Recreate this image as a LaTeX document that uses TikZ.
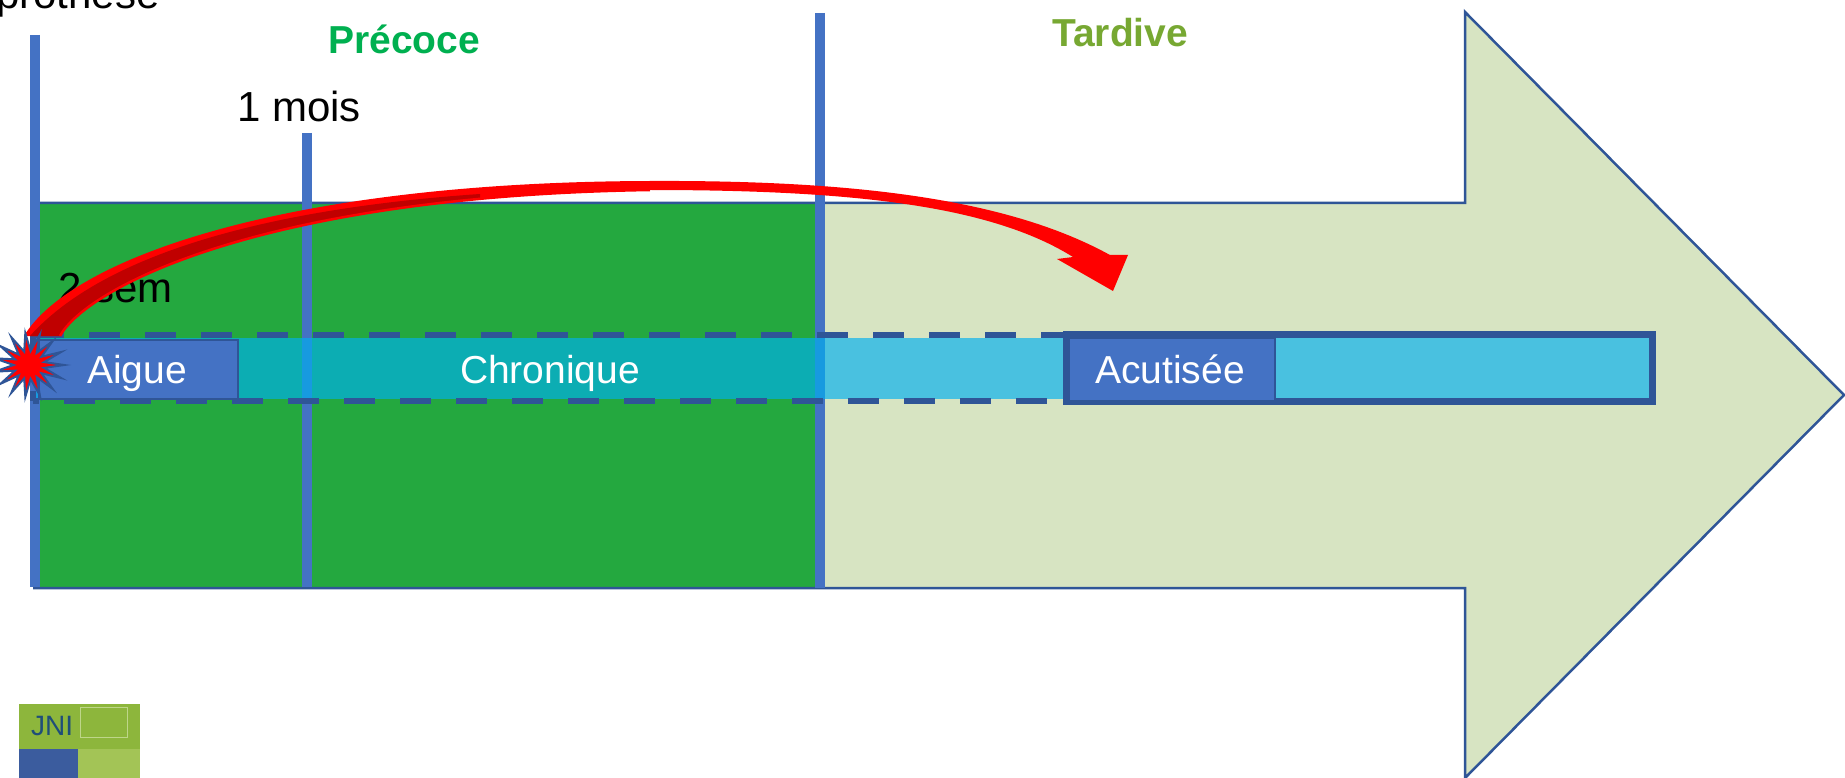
\documentclass[tikz,border=0pt]{standalone}
\usepackage{fontspec}
\setmainfont{Liberation Sans}
\definecolor{dkgreen}{HTML}{24A83F}
\definecolor{ltgreen}{HTML}{D7E4C2}
\definecolor{lineblue}{HTML}{4472C4}
\definecolor{navy}{HTML}{2F5597}
\definecolor{cyanbar}{HTML}{00B0F0}
\definecolor{darkred}{HTML}{C00000}
\definecolor{precoce}{HTML}{00B050}
\definecolor{tardive}{HTML}{77A832}
\definecolor{logogreen}{HTML}{8DB63C}
\definecolor{logoblue}{HTML}{3B5C9E}
\definecolor{logolight}{HTML}{A3C456}
\definecolor{jniblue}{HTML}{1F4E79}
\begin{document}
\begin{tikzpicture}[x=1pt,y=-1pt,
  vline/.style={draw=lineblue, line width=10pt},
  lbl/.style={font=\fontsize{42}{48}\selectfont, inner sep=0pt, anchor=base west},
  barlbl/.style={font=\fontsize{39}{46}\selectfont, text=white, inner sep=0pt, anchor=base},
  phaselbl/.style={font=\bfseries\fontsize{39}{46}\selectfont, inner sep=0pt, anchor=base west},
  box/.style={fill=lineblue, draw=navy, line width=2pt, inner sep=0pt, anchor=north west},
  bar/.style={fill=cyanbar, fill opacity=0.66},
  dashborder/.style={draw=navy, line width=6.5pt, dash pattern=on 31pt off 25pt},
]
\useasboundingbox (0,0) rectangle (1845,778);
\clip (0,0) rectangle (1845,778);
\fill[white] (0,0) rectangle (1845,778);

% big arrow
\fill[ltgreen] (33,203) -- (1465,203) -- (1465,12) -- (1844,395) -- (1465,778) -- (1465,588) -- (33,588) -- cycle;
\fill[dkgreen] (38,203) rectangle (818,588);
\draw[navy, line width=2.5pt] (33,203) -- (1465,203) -- (1465,12) -- (1844,395) -- (1465,778) -- (1465,588) -- (33,588);

% vertical markers
\coordinate (l0t) at (35,35);   \coordinate (l0b) at (35,587);
\coordinate (l1t) at (307,133); \coordinate (l1b) at (307,587);
\coordinate (l2t) at (820,13);  \coordinate (l2b) at (820,588);
\draw[vline] (l0t) -- (l0b);
\draw[vline] (l1t) -- (l1b);
\draw[vline] (l2t) -- (l2b);

% bar
\fill[bar] (36,338) rectangle (1066,399);
\fill[bar] (1070,338) rectangle (1649,398);
\draw[dashborder] (33,335) -- (1066,335);
\draw[dashborder, dash phase=25pt] (33,401) -- (1066,401);
\draw[dashborder] (33,335) -- (33,401);
\draw[navy, line width=7pt] (1066.5,334.5) rectangle (1652.5,401.5);

\node[box, minimum width=199pt, minimum height=59pt] (aigue) at (38,339) {};
\node[box, minimum width=206pt, minimum height=63pt] (acut) at (1068,337) {};
\node[barlbl] (aiguetxt) at (137,383) {Aigue};
\node[barlbl] (chrontxt) at (550,383) {Chronique};
\node[barlbl] (acuttxt) at (1170,383) {Acutisée};

% labels
\node[lbl] (prothese) at (-4,9) {prothèse};
\node[lbl] (mois) at (237,122) {1 mois};
\node[lbl] (sem) at (58,302) {2 sem};
\node[phaselbl, text=precoce] (prec) at (328,54) {Précoce};
\node[phaselbl, text=tardive] (tard) at (1052,47) {Tardive};

% red curved arrow
\def\redarrow{(24,336) .. controls (70,260) and (280,182) .. (650,181)
  .. controls (860,180) and (1010,200) .. (1110,255)
  -- (1128,255) -- (1113,291) -- (1057,259) -- (1073,257)
  .. controls (990,205) and (850,190) .. (650,190)
  .. controls (255,196) and (85,290) .. (60,336) -- cycle}
\fill[red] \redarrow;
\begin{scope}
  \clip \redarrow;
  \fill[darkred] (30,336) .. controls (110,247) and (290,207) .. (480,194) -- (480,400) -- (30,400) -- cycle;
\end{scope}
\draw[red, line width=2.5pt] (650,190) .. controls (255,196) and (85,290) .. (60,336);

% burst
\draw[fill=red, draw=navy, line width=2pt, shift={(29,365)}, xscale=1.1]
  (0:32) \foreach \a in {0,24,...,336} { -- (\a+12:14) -- (\a+24:32) } -- cycle;

% logo
\fill[logogreen] (19,704) rectangle (140,778);
\fill[logoblue] (19,749) rectangle (78,778);
\fill[logolight] (78,749) rectangle (140,778);
\draw[logolight!70!white, line width=0.8pt] (80,707) rectangle (127,737);
\node[font=\fontsize{28}{30}\selectfont, text=jniblue, inner sep=0pt, anchor=base west] (jni) at (31,735) {JNI};
\end{tikzpicture}
\end{document}
